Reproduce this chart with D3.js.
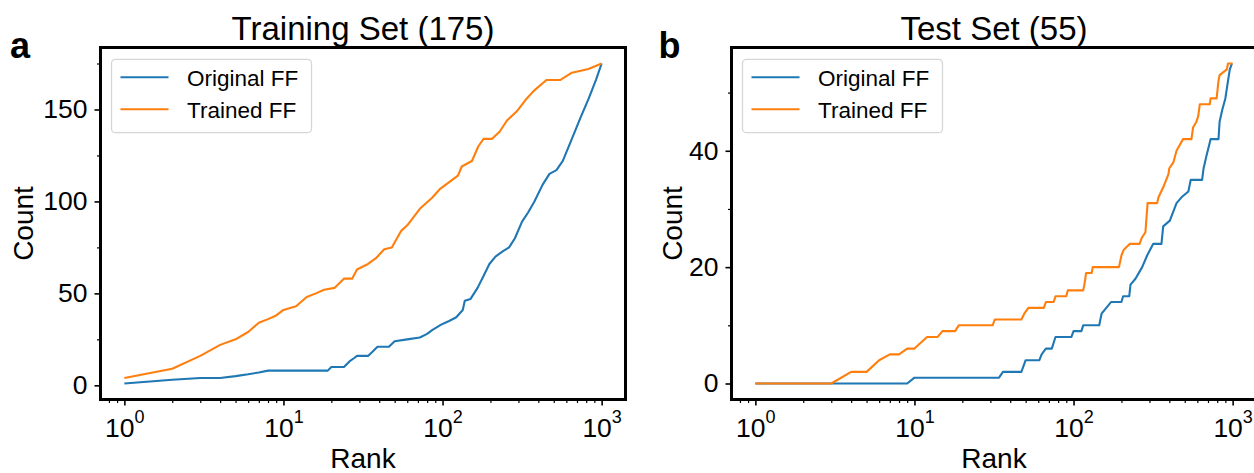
<!DOCTYPE html>
<html><head><meta charset="utf-8">
<script src="https://cdn.jsdelivr.net/npm/d3@7"></script>
<style>
html,body{margin:0;padding:0;background:#fff;}
svg{display:block;font-family:"Liberation Sans",Arial,sans-serif;}
</style></head>
<body>
<svg id="chart" width="1254" height="473"></svg>
<script>
// ---------- DATA ----------
const seriesNames = ["Original FF", "Trained FF"];
const seriesColors = ["#1f77b4", "#ff7f0e"];
const panelTitles = ["Training Set (175)", "Test Set (55)"];
const panelLetters = ["a", "b"];
const xLabel = "Rank";
const yLabel = "Count";
const xTickExponents = [0, 1, 2, 3];
const trainYTicks = [0, 50, 100, 150];
const trainYMinor = [25, 75, 125, 175];
const testYTicks = [0, 20, 40];
const testYMinor = [10, 30, 50];

// Training set — Original FF
const trainOrigRank  = [1,2,3,4,5,6,7,8,19,20,24,26,28,29,34,36,39,46,50,60,72,80,86,98,110,122,134,138,150,166,180,197,215,240,262,285,316,345,378,425,470,520,570,650,740,830,920,1000];
const trainOrigCount = [1,3,4,4,5,6,7,8,8,10,10,13,15,16,16,18,21,21,24,25,26,28,30,33,35,37,41,46,47,53,59,66,70,73,75,80,89,94,100,109,115,117,122,134,146,156,166,175];
// Training set — Trained FF
const trainTrRank  = [1,2,3,4,5,6,7,8,9,10,12,14,16,18,21,24,27,29,34,38,43,48,51,55,60,72,86,97,125,132,153,168,181,204,229,254,293,331,373,450,548,650,826,1000];
const trainTrCount = [4,9,16,22,25,29,34,36,38,41,43,48,50,52,53,58,58,63,66,69,74,75,79,84,87,96,102,107,114,119,122,130,134,134,138,144,149,155,160,166,166,170,172,175];
// Test set — Original FF
const testOrigRank  = [1,9,10,34,36,47,50,61,63,67,73,77,97,100,112,115,145,150,172,200,205,224,228,245,270,290,317,357,366,403,444,477,527,545,643,657,683,727,815,828,860,900,935,960,990];
const testOrigCount = [0,0,1,1,2,2,4,4,5,6,6,8,8,9,9,10,10,12,14,14,15,15,17,18,20,22,24,24,27,28,31,32,33,35,35,37,39,42,42,45,47,49,52,54,55];
// Test set — Trained FF
const testTrRank  = [1,3,4,5,6,7,8,9,10,12,14,15,18,19,31,32,47,49,52,65,67,75,77,90,92,115,117,120,130,132,193,200,207,226,260,268,283,292,335,342,370,395,400,424,444,465,488,551,564,592,608,622,718,727,793,815,828,920,935,1000];
const testTrCount = [0,0,2,2,4,5,5,6,6,8,8,9,9,10,10,11,11,12,13,13,14,14,15,15,16,16,17,19,19,20,20,22,23,24,24,25,26,31,31,32,34,36,37,38,40,41,42,42,44,45,46,48,48,49,49,52,53,54,55,55];

// ---------- LAYOUT ----------
const svg = d3.select("#chart");
const FONT_TICK = 26.5, FONT_SUP = 18, FONT_LABEL = 28, FONT_TITLE = 33, FONT_LEG = 22.5;

const panels = [
  {x0:100.5, x1:625.5, y0:47.5, y1:399.5, ydom:[-7.7,183.7], yticks:trainYTicks, yminor:trainYMinor,
   series:[[trainOrigRank,trainOrigCount],[trainTrRank,trainTrCount]], title:panelTitles[0], letter:panelLetters[0], letterX:10, ylabX:32.5},
  {x0:731.5, x1:1256.5, y0:47.5, y1:399.5, ydom:[-2.75,57.75], yticks:testYTicks, yminor:testYMinor,
   series:[[testOrigRank,testOrigCount],[testTrRank,testTrCount]], title:panelTitles[1], letter:panelLetters[1], letterX:658.5, ylabX:681.5}
];

panels.forEach((p, pi) => {
  const x = d3.scaleLog().domain([Math.pow(10,-0.15), Math.pow(10,3.15)]).range([p.x0, p.x1]);
  const y = d3.scaleLinear().domain(p.ydom).range([p.y1, p.y0]);
  const g = svg.append("g");

  const clipId = "clip" + pi;
  svg.append("clipPath").attr("id", clipId).append("rect")
    .attr("x", p.x0).attr("y", p.y0).attr("width", p.x1 - p.x0).attr("height", p.y1 - p.y0);

  // lines
  const line = d3.line().x(d => x(d[0])).y(d => y(d[1]));
  p.series.forEach((s, si) => {
    const pts = s[0].map((r, i) => [r, s[1][i]]);
    g.append("path").datum(pts).attr("d", line)
      .attr("fill", "none").attr("stroke", seriesColors[si]).attr("stroke-width", 2.1)
      .attr("stroke-linejoin", "round").attr("clip-path", `url(#${clipId})`);
  });

  // y axis major / minor
  const yAx = g.append("g").attr("transform", `translate(${p.x0},0)`)
    .call(d3.axisLeft(y).tickValues(p.yticks).tickSize(6).tickPadding(7).tickFormat(d3.format("d")));
  yAx.select(".domain").remove();
  yAx.selectAll("line").attr("stroke", "#000").attr("stroke-width", 1.6);
  yAx.selectAll("text").attr("font-size", FONT_TICK).attr("fill", "#000")
    .attr("font-family", '"Liberation Sans",Arial,sans-serif');
  const yMin = g.append("g").attr("transform", `translate(${p.x0},0)`)
    .call(d3.axisLeft(y).tickValues(p.yminor).tickSize(3.5).tickFormat(""));
  yMin.select(".domain").remove();
  yMin.selectAll("line").attr("stroke", "#000").attr("stroke-width", 1.2);

  // x axis major / minor
  const majorVals = xTickExponents.map(e => Math.pow(10, e));
  const xAx = g.append("g").attr("transform", `translate(0,${p.y1})`)
    .call(d3.axisBottom(x).tickValues(majorVals).tickSize(6).tickFormat(() => ""));
  xAx.select(".domain").remove();
  xAx.selectAll("line").attr("stroke", "#000").attr("stroke-width", 1.6);
  xAx.selectAll(".tick text").remove();
  xAx.selectAll(".tick").each(function(d, i) {
    const t = d3.select(this).append("text")
      .attr("x", 0).attr("y", 37.2).attr("text-anchor", "middle")
      .attr("fill", "#000").attr("font-family", '"Liberation Sans",Arial,sans-serif');
    t.append("tspan").attr("font-size", FONT_TICK).text("10");
    t.append("tspan").attr("font-size", FONT_SUP).attr("dy", -13.4).text(String(xTickExponents[i]));
  });
  const minorVals = x.ticks().filter(v => Math.abs(Math.log10(v) - Math.round(Math.log10(v))) > 1e-6);
  const xMin = g.append("g").attr("transform", `translate(0,${p.y1})`)
    .call(d3.axisBottom(x).tickValues(minorVals).tickSize(3.5).tickFormat(""));
  xMin.select(".domain").remove();
  xMin.selectAll("line").attr("stroke", "#000").attr("stroke-width", 1.2);

  // spines
  g.append("rect").attr("x", p.x0).attr("y", p.y0).attr("width", p.x1 - p.x0).attr("height", p.y1 - p.y0)
    .attr("fill", "none").attr("stroke", "#000").attr("stroke-width", 3);

  // legend
  const lx = p.x0 + 11, ly = 59.3;
  g.append("rect").attr("x", lx).attr("y", ly).attr("width", 200).attr("height", 73.4)
    .attr("rx", 4).attr("fill", "#fff").attr("fill-opacity", 0.8)
    .attr("stroke", "#d6d6d6").attr("stroke-width", 1.3);
  seriesNames.forEach((name, si) => {
    const yy = 77.3 + si * 32;
    g.append("line").attr("x1", p.x0 + 20).attr("x2", p.x0 + 68).attr("y1", yy).attr("y2", yy)
      .attr("stroke", seriesColors[si]).attr("stroke-width", 2.1);
    g.append("text").attr("x", p.x0 + 86.5).attr("y", yy + 8.2).attr("font-size", FONT_LEG)
      .attr("fill", "#000").text(name);
  });

  // titles & labels
  g.append("text").attr("x", (p.x0 + p.x1) / 2).attr("y", 40)
    .attr("text-anchor", "middle").attr("font-size", FONT_TITLE).attr("fill", "#000").text(p.title);
  g.append("text").attr("x", (p.x0 + p.x1) / 2).attr("y", 468)
    .attr("text-anchor", "middle").attr("font-size", FONT_LABEL).attr("fill", "#000").text(xLabel);
  g.append("text").attr("transform", `translate(${p.ylabX},${(p.y0 + p.y1) / 2}) rotate(-90)`)
    .attr("text-anchor", "middle").attr("font-size", FONT_LABEL).attr("fill", "#000").text(yLabel);
  g.append("text").attr("x", p.letterX).attr("y", 57.5).attr("font-size", 36).attr("font-weight", "bold")
    .attr("fill", "#000").text(p.letter);
});
</script>
</body></html>
